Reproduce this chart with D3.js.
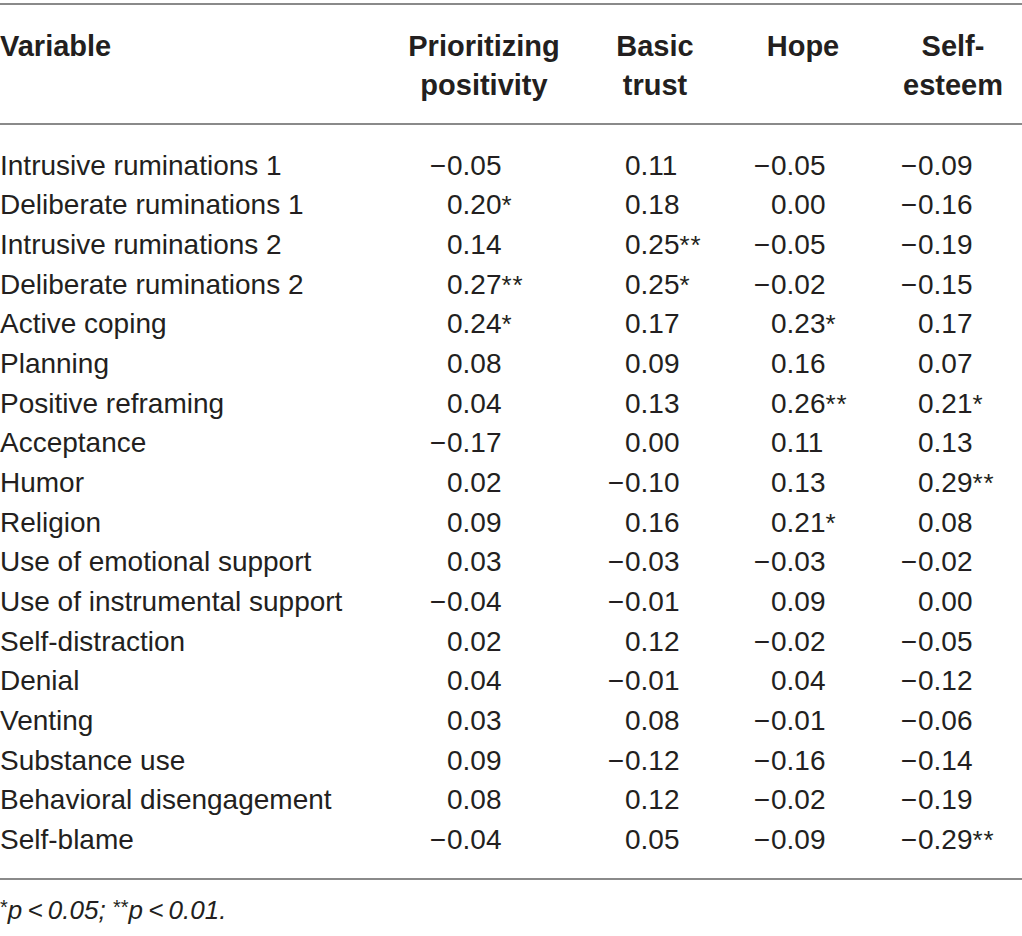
<!DOCTYPE html>
<html lang="en">
<head>
    <meta charset="UTF-8">
    <script src="https://cdnjs.cloudflare.com/ajax/libs/d3/7.8.5/d3.min.js"></script>
    <style>
        body { margin: 0; background: #fff; }
        text { font-family: "Liberation Sans", Arial, sans-serif; fill: #231f20; }
        .head { font-weight: bold; font-size: 29px; }
        .cell { font-size: 28px; }
        .note { font-size: 26px; font-style: italic; }
    </style>
</head>
<body>
    <svg id="tbl" width="1022" height="936"></svg>
    <script>
        const variables = [
            'Intrusive ruminations 1', 'Deliberate ruminations 1', 'Intrusive ruminations 2',
            'Deliberate ruminations 2', 'Active coping', 'Planning', 'Positive reframing',
            'Acceptance', 'Humor', 'Religion', 'Use of emotional support',
            'Use of instrumental support', 'Self-distraction', 'Denial', 'Venting',
            'Substance use', 'Behavioral disengagement', 'Self-blame'
        ];
        const columns = ['Prioritizing positivity', 'Basic trust', 'Hope', 'Self-esteem'];
        const headerLines = [['Prioritizing', 'positivity'], ['Basic', 'trust'], ['Hope'], ['Self-', 'esteem']];

        const prioritizing = [-0.05, 0.20, 0.14, 0.27, 0.24, 0.08, 0.04, -0.17, 0.02, 0.09, 0.03, -0.04, 0.02, 0.04, 0.03, 0.09, 0.08, -0.04];
        const prioritizingSig = ['', '*', '', '**', '*', '', '', '', '', '', '', '', '', '', '', '', '', ''];
        const basicTrust = [0.11, 0.18, 0.25, 0.25, 0.17, 0.09, 0.13, 0.00, -0.10, 0.16, -0.03, -0.01, 0.12, -0.01, 0.08, -0.12, 0.12, 0.05];
        const basicTrustSig = ['', '', '**', '*', '', '', '', '', '', '', '', '', '', '', '', '', '', ''];
        const hope = [-0.05, 0.00, -0.05, -0.02, 0.23, 0.16, 0.26, 0.11, 0.13, 0.21, -0.03, 0.09, -0.02, 0.04, -0.01, -0.16, -0.02, -0.09];
        const hopeSig = ['', '', '', '', '*', '', '**', '', '', '*', '', '', '', '', '', '', '', ''];
        const selfEsteem = [-0.09, -0.16, -0.19, -0.15, 0.17, 0.07, 0.21, 0.13, 0.29, 0.08, -0.02, 0.00, -0.05, -0.12, -0.06, -0.14, -0.19, -0.29];
        const selfEsteemSig = ['', '', '', '', '', '', '*', '', '**', '', '', '', '', '', '', '', '', '**'];

        const series = [prioritizing, basicTrust, hope, selfEsteem];
        const sigs = [prioritizingSig, basicTrustSig, hopeSig, selfEsteemSig];

        const svg = d3.select('#tbl');
        const fmt = d3.format('.2f');

        // row and column positions
        const yRow = d3.scalePoint().domain(variables).range([165, 839]);
        const xNum = d3.scaleOrdinal().domain(columns).range([447, 625, 771, 918]);
        const xHead = d3.scaleOrdinal().domain(columns).range([484, 655, 803, 953]);

        // rules
        [4, 124, 879].forEach(y => {
            svg.append('line')
                .attr('x1', 0).attr('x2', 1022)
                .attr('y1', y).attr('y2', y)
                .attr('stroke', '#8a8a8a')
                .attr('stroke-width', 2);
        });

        // header
        svg.append('text').attr('class', 'head')
            .attr('x', 0).attr('y', 46).attr('dy', '0.35em')
            .text('Variable');

        columns.forEach((c, i) => {
            headerLines[i].forEach((t, j) => {
                svg.append('text').attr('class', 'head')
                    .attr('x', xHead(c)).attr('y', 46 + j * 39).attr('dy', '0.35em')
                    .attr('text-anchor', 'middle')
                    .text(t);
            });
        });

        // variable names
        svg.selectAll('text.var')
            .data(variables)
            .join('text')
            .attr('class', 'cell var')
            .attr('x', 0)
            .attr('y', d => yRow(d))
            .attr('dy', '0.35em')
            .text(d => d);

        // values
        columns.forEach((c, ci) => {
            const g = svg.append('g');
            variables.forEach((v, ri) => {
                const val = series[ci][ri];
                const y = yRow(v);
                if (val < 0) {
                    g.append('text').attr('class', 'cell')
                        .attr('x', xNum(c) - 1).attr('y', y).attr('dy', '0.35em')
                        .attr('text-anchor', 'end')
                        .text('\u2212');
                }
                const t = g.append('text').attr('class', 'cell')
                    .attr('x', xNum(c)).attr('y', y).attr('dy', '0.35em');
                t.append('tspan').text(fmt(Math.abs(val)));
                if (sigs[ci][ri]) {
                    t.append('tspan')
                        .attr('font-size', '26px')
                        .attr('letter-spacing', '1px')
                        .text(sigs[ci][ri]);
                }
            });
        });

        // footnote (baseline at 919, asterisks raised)
        const note = svg.append('text').attr('class', 'note')
            .attr('x', 0).attr('y', 919);
        note.append('tspan').attr('font-size', '20px').attr('font-style', 'normal').attr('dy', -5).text('*');
        note.append('tspan').attr('dy', 5).text('p\u2009<\u20090.05; ');
        note.append('tspan').attr('font-size', '20px').attr('font-style', 'normal').attr('dy', -5).text('**');
        note.append('tspan').attr('dy', 5).text('p\u2009<\u20090.01.');
    </script>
</body>
</html>
